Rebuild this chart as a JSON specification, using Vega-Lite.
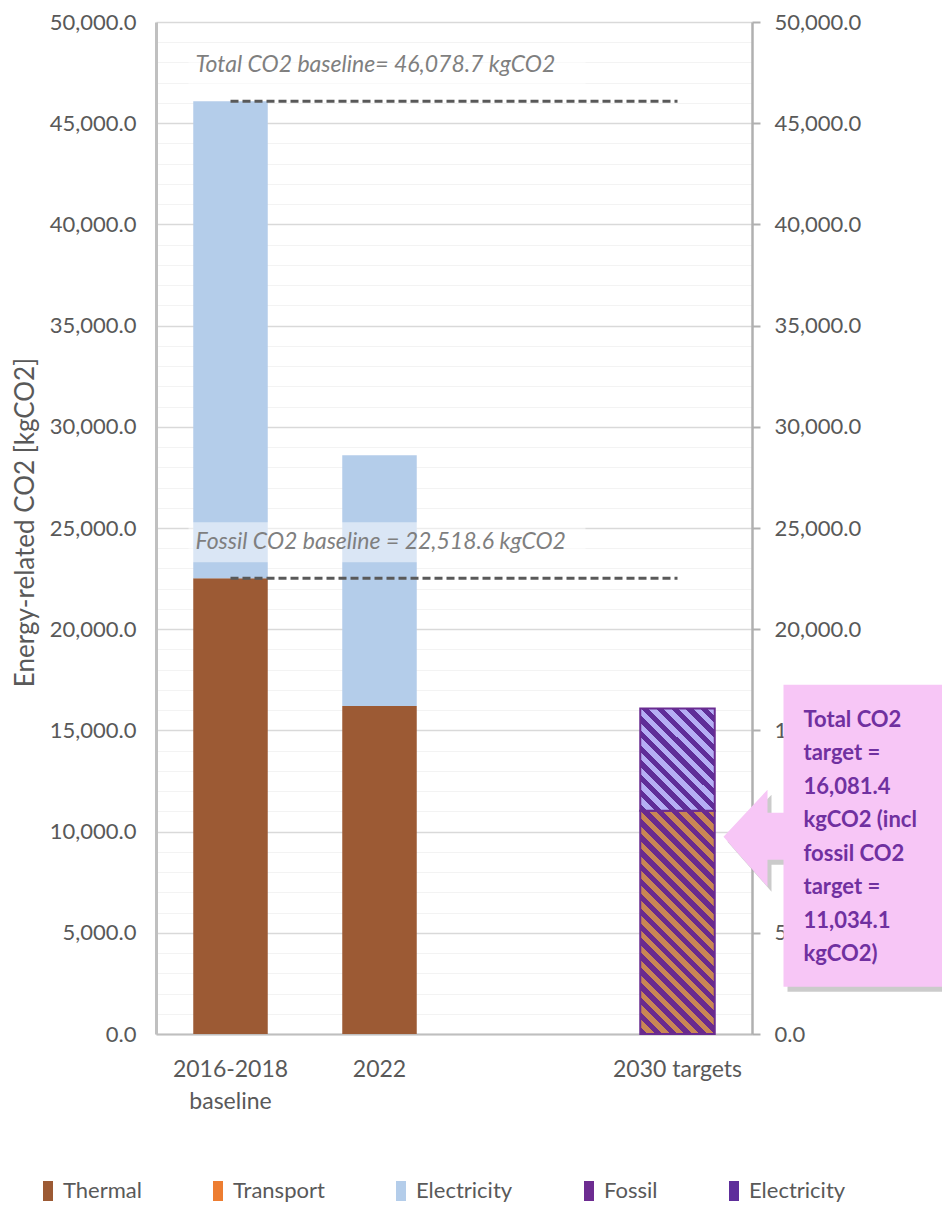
{
  "$schema": "https://vega.github.io/schema/vega-lite/v6.json",
  "width": 596,
  "height": 1012,
  "autosize": {"type": "none"},
  "padding": {"left": 156, "top": 22, "right": 190, "bottom": 172},
  "background": "white",
  "config": {"font": "Lato", "view": {"stroke": null}},
  "datasets": {
    "bars": [
      {"category": "2016-2018 baseline", "source": "Thermal", "co2": 22518.6},
      {"category": "2016-2018 baseline", "source": "Electricity", "co2": 23560.1},
      {"category": "2022", "source": "Thermal", "co2": 16200},
      {"category": "2022", "source": "Electricity", "co2": 12400},
      {"category": "2030 targets", "source": "Fossil", "co2": 11034.1},
      {"category": "2030 targets", "source": "Electricity target", "co2": 5047.3}
    ],
    "lines": [
      {"category": "2016-2018 baseline", "to": "2030 targets", "value": 46078.7, "label": "Total CO2 baseline= 46,078.7 kgCO2"},
      {"category": "2016-2018 baseline", "to": "2030 targets", "value": 22518.6, "label": "Fossil CO2 baseline = 22,518.6 kgCO2"}
    ],
    "callout": [
      {"category": "2030 targets", "value": 9750, "label": ["Total CO2", "target =", "16,081.4", "kgCO2 (incl", "fossil CO2", "target =", "11,034.1", "kgCO2)"]}
    ]
  },
  "encoding": {
    "x": {
      "field": "category", "type": "nominal",
      "scale": {"domain": ["2016-2018 baseline", "2022", "gap", "2030 targets"], "paddingInner": 0.5, "paddingOuter": 0.25},
      "axis": {
        "title": null, "ticks": false, "domainColor": "#bfbfbf", "domainWidth": 2,
        "labelColor": "#595959", "labelFontSize": 23, "labelPadding": 24, "labelLineHeight": 32,
        "labelAngle": 0,
        "labelExpr": "datum.label == '2016-2018 baseline' ? ['2016-2018', 'baseline'] : (datum.label == 'gap' ? '' : datum.label)"
      }
    }
  },
  "layer": [
    {
      "data": {"name": "bars"},
      "transform": [
        {"stack": "co2", "groupby": ["category"], "sort": [{"field": "source", "order": "descending"}], "as": ["y0", "y1"]}
      ],
      "mark": {"type": "bar"},
      "encoding": {
        "y": {
          "field": "y0", "type": "quantitative",
          "scale": {"domain": [0, 50000], "nice": false},
          "axis": {
            "orient": "left",
            "values": [0,1000,2000,3000,4000,5000,6000,7000,8000,9000,10000,11000,12000,13000,14000,15000,16000,17000,18000,19000,20000,21000,22000,23000,24000,25000,26000,27000,28000,29000,30000,31000,32000,33000,34000,35000,36000,37000,38000,39000,40000,41000,42000,43000,44000,45000,46000,47000,48000,49000,50000],
            "labelExpr": "datum.value % 5000 === 0 ? format(datum.value, ',.1f') : ''",
            "labelColor": "#595959", "labelFontSize": 22, "labelPadding": 20,
            "labelOverlap": false, "labelFlush": false,
            "ticks": false, "tickSize": 0,
            "domainColor": "#c0c0c0", "domainWidth": 3,
            "grid": true,
            "gridColor": {"condition": {"test": "datum.value % 5000 === 0", "value": "#d9d9d9"}, "value": "#f3f3f3"},
            "gridWidth": {"condition": {"test": "datum.value % 5000 === 0", "value": 1.5}, "value": 1.2},
            "title": "Energy-related CO2 [kgCO2]",
            "titleColor": "#595959", "titleFontSize": 26, "titleFontWeight": "normal",
            "titleX": -131, "titleY": 500, "titleAngle": 270, "titleAlign": "center", "titleBaseline": "middle"
          }
        },
        "y2": {"field": "y1"},
        "color": {
          "field": "source", "type": "nominal",
          "scale": {
            "domain": ["Thermal", "Transport", "Electricity", "Fossil", "Electricity target"],
            "range": ["#9c5a34", "#ed7d31", "#b4cdea", "#6d2c91", "#5e2e9b"]
          },
          "legend": {
            "orient": "none", "legendX": -119, "legendY": 1158,
            "direction": "horizontal", "columns": 5, "title": null,
            "symbolType": "M-0.5,-1H0.5V1H-0.5Z", "symbolSize": 400,
            "symbolStrokeWidth": 0, "symbolOpacity": 1,
            "labelFontSize": 22, "labelColor": "#595959", "labelOffset": 4,
            "columnPadding": 65, "padding": 0, "labelLimit": 300,
            "labelExpr": "datum.label === 'Electricity target' ? 'Electricity' : datum.label"
          }
        }
      }
    },
    {
      "data": {"name": "bars"},
      "transform": [
        {"stack": "co2", "groupby": ["category"], "sort": [{"field": "source", "order": "descending"}], "as": ["y0", "y1"]},
        {"filter": "datum.source === 'Fossil'"}
      ],
      "mark": {
        "type": "bar", "stroke": "#6a2c91", "strokeWidth": 2,
        "fill": {
          "gradient": "linear", "x1": 0, "y1": 1, "x2": 0.4, "y2": -0.2,
          "stops": [
            {"offset": 0, "color": "#6a2a8e"}, {"offset": 0.025, "color": "#6a2a8e"}, {"offset": 0.025, "color": "#c98654"}, {"offset": 0.05, "color": "#c98654"},
            {"offset": 0.05, "color": "#6a2a8e"}, {"offset": 0.075, "color": "#6a2a8e"}, {"offset": 0.075, "color": "#c98654"}, {"offset": 0.1, "color": "#c98654"},
            {"offset": 0.1, "color": "#6a2a8e"}, {"offset": 0.125, "color": "#6a2a8e"}, {"offset": 0.125, "color": "#c98654"}, {"offset": 0.15, "color": "#c98654"},
            {"offset": 0.15, "color": "#6a2a8e"}, {"offset": 0.175, "color": "#6a2a8e"}, {"offset": 0.175, "color": "#c98654"}, {"offset": 0.2, "color": "#c98654"},
            {"offset": 0.2, "color": "#6a2a8e"}, {"offset": 0.225, "color": "#6a2a8e"}, {"offset": 0.225, "color": "#c98654"}, {"offset": 0.25, "color": "#c98654"},
            {"offset": 0.25, "color": "#6a2a8e"}, {"offset": 0.275, "color": "#6a2a8e"}, {"offset": 0.275, "color": "#c98654"}, {"offset": 0.3, "color": "#c98654"},
            {"offset": 0.3, "color": "#6a2a8e"}, {"offset": 0.325, "color": "#6a2a8e"}, {"offset": 0.325, "color": "#c98654"}, {"offset": 0.35, "color": "#c98654"},
            {"offset": 0.35, "color": "#6a2a8e"}, {"offset": 0.375, "color": "#6a2a8e"}, {"offset": 0.375, "color": "#c98654"}, {"offset": 0.4, "color": "#c98654"},
            {"offset": 0.4, "color": "#6a2a8e"}, {"offset": 0.425, "color": "#6a2a8e"}, {"offset": 0.425, "color": "#c98654"}, {"offset": 0.45, "color": "#c98654"},
            {"offset": 0.45, "color": "#6a2a8e"}, {"offset": 0.475, "color": "#6a2a8e"}, {"offset": 0.475, "color": "#c98654"}, {"offset": 0.5, "color": "#c98654"},
            {"offset": 0.5, "color": "#6a2a8e"}, {"offset": 0.525, "color": "#6a2a8e"}, {"offset": 0.525, "color": "#c98654"}, {"offset": 0.55, "color": "#c98654"},
            {"offset": 0.55, "color": "#6a2a8e"}, {"offset": 0.575, "color": "#6a2a8e"}, {"offset": 0.575, "color": "#c98654"}, {"offset": 0.6, "color": "#c98654"},
            {"offset": 0.6, "color": "#6a2a8e"}, {"offset": 0.625, "color": "#6a2a8e"}, {"offset": 0.625, "color": "#c98654"}, {"offset": 0.65, "color": "#c98654"},
            {"offset": 0.65, "color": "#6a2a8e"}, {"offset": 0.675, "color": "#6a2a8e"}, {"offset": 0.675, "color": "#c98654"}, {"offset": 0.7, "color": "#c98654"},
            {"offset": 0.7, "color": "#6a2a8e"}, {"offset": 0.725, "color": "#6a2a8e"}, {"offset": 0.725, "color": "#c98654"}, {"offset": 0.75, "color": "#c98654"},
            {"offset": 0.75, "color": "#6a2a8e"}, {"offset": 0.775, "color": "#6a2a8e"}, {"offset": 0.775, "color": "#c98654"}, {"offset": 0.8, "color": "#c98654"},
            {"offset": 0.8, "color": "#6a2a8e"}, {"offset": 0.825, "color": "#6a2a8e"}, {"offset": 0.825, "color": "#c98654"}, {"offset": 0.85, "color": "#c98654"},
            {"offset": 0.85, "color": "#6a2a8e"}, {"offset": 0.875, "color": "#6a2a8e"}, {"offset": 0.875, "color": "#c98654"}, {"offset": 0.9, "color": "#c98654"},
            {"offset": 0.9, "color": "#6a2a8e"}, {"offset": 0.925, "color": "#6a2a8e"}, {"offset": 0.925, "color": "#c98654"}, {"offset": 0.95, "color": "#c98654"},
            {"offset": 0.95, "color": "#6a2a8e"}, {"offset": 0.975, "color": "#6a2a8e"}, {"offset": 0.975, "color": "#c98654"}, {"offset": 1, "color": "#c98654"}
          ]
        }
      },
      "encoding": {
        "y": {
          "field": "y0", "type": "quantitative",
          "axis": {
            "orient": "right",
            "values": [0,5000,10000,15000,20000,25000,30000,35000,40000,45000,50000],
            "format": ",.1f",
            "labelColor": "#595959", "labelFontSize": 22, "labelPadding": 14,
            "labelOverlap": false, "labelFlush": false,
            "ticks": true, "tickSize": 8, "tickColor": "#b0b0b0", "tickWidth": 2,
            "domainColor": "#b0b0b0", "domainWidth": 2.5,
            "grid": false, "title": null
          }
        },
        "y2": {"field": "y1"}
      }
    },
    {
      "data": {"name": "bars"},
      "transform": [
        {"stack": "co2", "groupby": ["category"], "sort": [{"field": "source", "order": "descending"}], "as": ["y0", "y1"]},
        {"filter": "datum.source === 'Electricity target'"}
      ],
      "mark": {
        "type": "bar", "stroke": "#6a2c91", "strokeWidth": 2,
        "fill": {
          "gradient": "linear", "x1": 0, "y1": 1, "x2": 0.822, "y2": -0.13,
          "stops": [
            {"offset": 0, "color": "#5f2d98"}, {"offset": 0.0417, "color": "#5f2d98"}, {"offset": 0.0417, "color": "#b5aef4"}, {"offset": 0.0833, "color": "#b5aef4"},
            {"offset": 0.0833, "color": "#5f2d98"}, {"offset": 0.125, "color": "#5f2d98"}, {"offset": 0.125, "color": "#b5aef4"}, {"offset": 0.1667, "color": "#b5aef4"},
            {"offset": 0.1667, "color": "#5f2d98"}, {"offset": 0.2083, "color": "#5f2d98"}, {"offset": 0.2083, "color": "#b5aef4"}, {"offset": 0.25, "color": "#b5aef4"},
            {"offset": 0.25, "color": "#5f2d98"}, {"offset": 0.2917, "color": "#5f2d98"}, {"offset": 0.2917, "color": "#b5aef4"}, {"offset": 0.3333, "color": "#b5aef4"},
            {"offset": 0.3333, "color": "#5f2d98"}, {"offset": 0.375, "color": "#5f2d98"}, {"offset": 0.375, "color": "#b5aef4"}, {"offset": 0.4167, "color": "#b5aef4"},
            {"offset": 0.4167, "color": "#5f2d98"}, {"offset": 0.4583, "color": "#5f2d98"}, {"offset": 0.4583, "color": "#b5aef4"}, {"offset": 0.5, "color": "#b5aef4"},
            {"offset": 0.5, "color": "#5f2d98"}, {"offset": 0.5417, "color": "#5f2d98"}, {"offset": 0.5417, "color": "#b5aef4"}, {"offset": 0.5833, "color": "#b5aef4"},
            {"offset": 0.5833, "color": "#5f2d98"}, {"offset": 0.625, "color": "#5f2d98"}, {"offset": 0.625, "color": "#b5aef4"}, {"offset": 0.6667, "color": "#b5aef4"},
            {"offset": 0.6667, "color": "#5f2d98"}, {"offset": 0.7083, "color": "#5f2d98"}, {"offset": 0.7083, "color": "#b5aef4"}, {"offset": 0.75, "color": "#b5aef4"},
            {"offset": 0.75, "color": "#5f2d98"}, {"offset": 0.7917, "color": "#5f2d98"}, {"offset": 0.7917, "color": "#b5aef4"}, {"offset": 0.8333, "color": "#b5aef4"},
            {"offset": 0.8333, "color": "#5f2d98"}, {"offset": 0.875, "color": "#5f2d98"}, {"offset": 0.875, "color": "#b5aef4"}, {"offset": 0.9167, "color": "#b5aef4"},
            {"offset": 0.9167, "color": "#5f2d98"}, {"offset": 0.9583, "color": "#5f2d98"}, {"offset": 0.9583, "color": "#b5aef4"}, {"offset": 1, "color": "#b5aef4"}
          ]
        }
      },
      "encoding": {
        "y": {"field": "y0", "type": "quantitative", "axis": null},
        "y2": {"field": "y1"}
      }
    },
    {
      "data": {"name": "lines"},
      "mark": {"type": "point", "shape": "M-0.42,-0.56H3.55V-0.16H-0.42Z", "size": 40000, "filled": true, "fill": "#ffffff", "opacity": 0.5, "strokeWidth": 0},
      "encoding": {
        "y": {"field": "value", "type": "quantitative", "axis": null}
      }
    },
    {
      "data": {"name": "lines"},
      "mark": {"type": "rule", "strokeDash": [8, 4], "strokeWidth": 3, "color": "#595959"},
      "encoding": {
        "x2": {"field": "to"},
        "y": {"field": "value", "type": "quantitative", "axis": null}
      }
    },
    {
      "data": {"name": "lines"},
      "mark": {"type": "text", "align": "left", "baseline": "middle", "dx": -35, "dy": -36, "fontSize": 23, "fontStyle": "italic", "color": "#7f7f7f"},
      "encoding": {
        "y": {"field": "value", "type": "quantitative", "axis": null},
        "text": {"field": "label"}
      }
    },
    {
      "data": {"name": "callout"},
      "mark": {"type": "point", "shape": "M0.50,0.05L0.94,-0.42L0.94,-0.19L1.10,-0.19L1.10,-1.47L2.87,-1.47L2.87,1.55L1.10,1.55L1.10,0.28L0.94,0.28L0.94,0.55Z", "size": 40000, "filled": true, "fill": "#8c8c8c", "opacity": 0.45, "strokeWidth": 0},
      "encoding": {
        "y": {"field": "value", "type": "quantitative", "axis": null}
      }
    },
    {
      "data": {"name": "callout"},
      "mark": {"type": "point", "shape": "M0.46,0L0.90,-0.47L0.90,-0.24L1.06,-0.24L1.06,-1.52L2.83,-1.52L2.83,1.50L1.06,1.50L1.06,0.23L0.90,0.23L0.90,0.50Z", "size": 40000, "filled": true, "fill": "#f7c6f6", "opacity": 1, "strokeWidth": 0},
      "encoding": {
        "y": {"field": "value", "type": "quantitative", "axis": null}
      }
    },
    {
      "data": {"name": "callout"},
      "mark": {"type": "text", "align": "left", "baseline": "middle", "dx": 126, "dy": -117, "lineHeight": 33.5, "fontSize": 22, "fontWeight": "bold", "color": "#7030a0"},
      "encoding": {
        "y": {"field": "value", "type": "quantitative", "axis": null},
        "text": {"field": "label"}
      }
    }
  ],
  "resolve": {"axis": {"y": "independent"}}
}
